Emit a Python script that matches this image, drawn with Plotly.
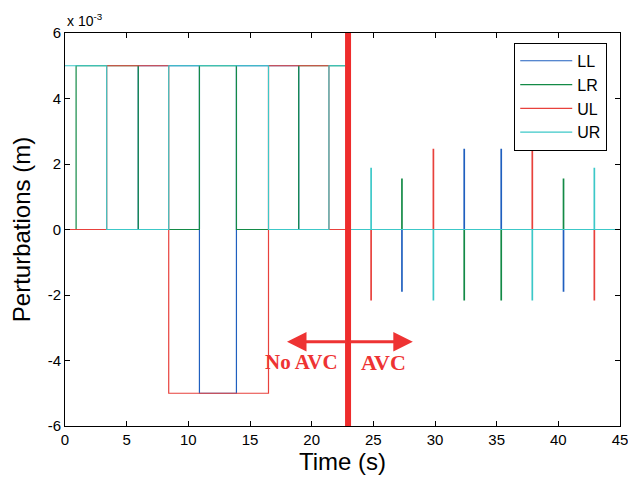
import plotly.graph_objects as go

# ---- data (perturbation values in units of 1e-3 m) ----
names = ["LL", "LR", "UL", "UR"]
colors = ["#1F5FBF", "#138A46", "#E8413C", "#3CC8C8"]

# Step phase (No AVC): switching instants and levels held from each instant
step_t = [0, 0.9, 3.38, 5.94, 8.41, 10.9, 13.9, 16.5, 18.95, 21.4, 23.0]
LL_step = [0, 0, 0, 5, 5, -5, 5, 5, 0, 0, 0]
LR_step = [0, 5, 5, 0, 0, 5, 0, 0, 5, 5, 0]
UL_step = [0, 0, 5, 5, -5, -5, -5, 5, 5, 0, 0]
UR_step = [5, 5, 0, 0, 5, 5, 5, 0, 0, 5, 0]

# Spike phase (AVC): spike instants and peak values
spike_t = [24.8, 27.3, 29.85, 32.35, 35.35, 37.87, 40.4, 42.9]
LL_spk = [0, -1.88, 0, 2.45, 2.45, 0, -1.88, 0]
LR_spk = [0, 1.54, 0, -2.15, -2.15, 0, 1.54, 0]
UL_spk = [-2.15, 0, 2.45, 0, 0, 2.45, 0, -2.15]
UR_spk = [1.87, 0, -2.15, 0, 0, -2.15, 0, 1.87]

t_end = 45
avc_switch = 22.95

x_ticks = [0, 5, 10, 15, 20, 25, 30, 35, 40, 45]
y_ticks = [-6, -4, -2, 0, 2, 4, 6]

steps = [LL_step, LR_step, UL_step, UR_step]
spikes = [LL_spk, LR_spk, UL_spk, UR_spk]


def build(step_vals, spk_vals):
    xs = list(step_t)
    ys = list(step_vals)
    for t, v in zip(spike_t, spk_vals):
        if v != 0:
            xs += [t, t + 0.04]
            ys += [v, 0]
    xs.append(t_end)
    ys.append(0)
    return xs, ys


fig = go.Figure()
for n, c, s, k in zip(names, colors, steps, spikes):
    xs, ys = build(s, k)
    fig.add_trace(go.Scatter(x=xs, y=ys, mode="lines", name=n,
                             line=dict(color=c, width=1.2, shape="hv")))

# thick red separator
fig.add_shape(type="line", x0=avc_switch, x1=avc_switch, y0=-6, y1=6,
              xref="x", yref="y", line=dict(color="#EE2C2C", width=6))

red = "#EE3333"
arrow_y = -3.43
for tip in [18.0, 28.2]:
    fig.add_annotation(x=tip, y=arrow_y, ax=avc_switch, ay=arrow_y,
                       xref="x", yref="y", axref="x", ayref="y",
                       text="", showarrow=True, arrowhead=2, arrowsize=1.3,
                       arrowwidth=3, arrowcolor=red)

fig.add_annotation(x=19.2, y=-4.05, text="<b>No AVC</b>", showarrow=False,
                   font=dict(family="Liberation Serif", size=21, color=red))
fig.add_annotation(x=25.8, y=-4.05, text="<b>AVC</b>", showarrow=False,
                   font=dict(family="Liberation Serif", size=22, color=red))

fig.add_annotation(xref="paper", yref="paper", x=0, y=1, xanchor="left",
                   yanchor="bottom", text="x 10<sup>-3</sup>", showarrow=False,
                   font=dict(family="Liberation Sans", size=14, color="black"),
                   yshift=2)

axis_common = dict(showline=True, linecolor="black", linewidth=1, mirror="ticks",
                   ticks="inside", ticklen=5, tickcolor="black", showgrid=False,
                   zeroline=False, ticklabeloverflow="allow", automargin=False,
                   tickfont=dict(family="Liberation Sans", size=15, color="black"))

fig.update_layout(
    width=628, height=482,
    margin=dict(l=65, r=8, t=33, b=56, autoexpand=False),
    paper_bgcolor="white", plot_bgcolor="white",
    font=dict(family="Liberation Sans", color="black"),
    xaxis=dict(range=[0, 45], tickvals=x_ticks, ticktext=[str(v) for v in x_ticks],
               title=dict(text="Time (s)", font=dict(size=24), standoff=4),
               **axis_common),
    yaxis=dict(range=[-6, 6], tickvals=y_ticks, ticktext=[str(v) for v in y_ticks],
               title=dict(text="Perturbations (m)", font=dict(size=24), standoff=10),
               **axis_common),
    legend=dict(x=0.977, y=0.975, xanchor="right", yanchor="top",
                bgcolor="white", bordercolor="black", borderwidth=1,
                font=dict(size=16, family="Liberation Sans"),
                tracegroupgap=0, itemwidth=52),
    showlegend=True,
)

fig.write_html("out.html")
